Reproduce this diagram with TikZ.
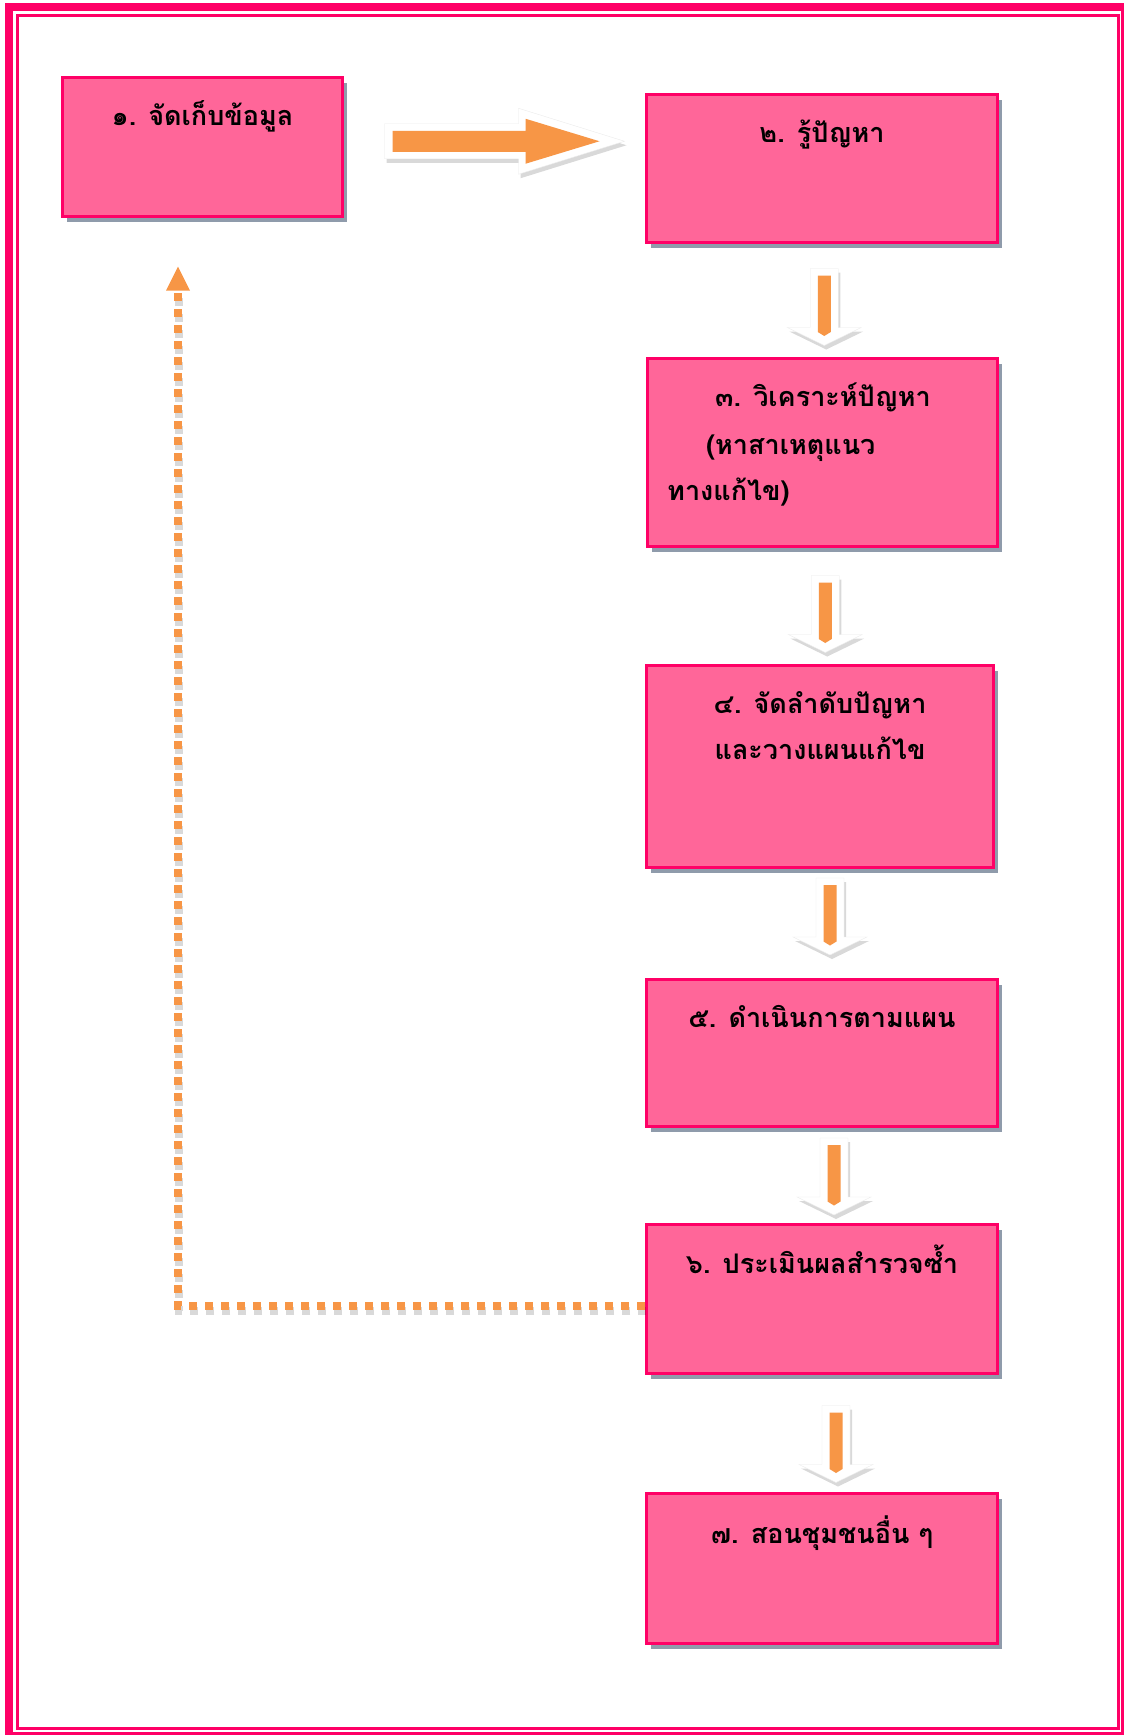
\documentclass[tikz,border=0pt]{standalone}
\usepackage{fontspec}
\usepackage{tikz}
\usetikzlibrary{positioning,calc,shadows,arrows.meta}
\newfontfamily\thaifont[Script=Thai]{Loma}
\definecolor{boxpink}{HTML}{FF6699}
\definecolor{linepink}{HTML}{FF0066}
\definecolor{arroworange}{HTML}{F79646}
\definecolor{shadowgray}{HTML}{8F9BAB}

\begin{document}
\begin{tikzpicture}[x=1pt,y=-1pt,
    box/.style={draw=linepink, line width=3pt, fill=boxpink, anchor=north west,
        drop shadow={fill=shadowgray, opacity=1, shadow xshift=4pt, shadow yshift=-6pt}},
    lbl/.style={anchor=base, inner sep=0pt, font=\thaifont\bfseries\fontsize{27}{46}\selectfont},
    dotline/.style={arroworange, line width=8pt, dash pattern=on 8pt off 8pt},
    blockwhite/.style={fill=white, draw=black!8, line width=.4pt,
        drop shadow={opacity=.3, shadow xshift=2pt, shadow yshift=-4pt}}]
    \useasboundingbox (0,0) rectangle (1124,1735);
    \draw[linepink, line width=8pt] (9,7) rectangle (1125,1736);
    \draw[linepink, line width=3pt] (17,15) rectangle (1118,1728);

    \node[box, minimum width=280pt, minimum height=139pt] (b1) at (61,75.5) {};
    \node[box, minimum width=351pt, minimum height=148pt] (b2) at (645,92.5) {};
    \node[box, minimum width=350pt, minimum height=188pt] (b3) at (646,356.5) {};
    \node[box, minimum width=347pt, minimum height=202pt] (b4) at (645,663.5) {};
    \node[box, minimum width=351pt, minimum height=147pt] (b5) at (645,977.5) {};
    \node[box, minimum width=351pt, minimum height=149pt] (b6) at (645,1222.5) {};
    \node[box, minimum width=351pt, minimum height=150pt] (b7) at (645,1491.5) {};

    \node[lbl] (t1) at ($(b1.north)+(0,50)$) {๑. จัดเก็บข้อมูล};
    \node[lbl] (t2) at ($(b2.north)+(0,50)$) {๒. รู้ปัญหา};
    \node[lbl, anchor=base west] (t3) at ($(b3.north west)+(21,50)$)
        {\begin{tabular}[t]{@{}l@{}}\hspace{48pt}๓. วิเคราะห์ปัญหา\\[2pt]\hspace{39pt}(หาสาเหตุแนว\\ทางแก้ไข)\end{tabular}};
    \node[lbl] (t4) at ($(b4.north)+(0,50)$)
        {\begin{tabular}[t]{@{}c@{}}๔. จัดลำดับปัญหา\\และวางแผนแก้ไข\end{tabular}};
    \node[lbl] (t5) at ($(b5.north)+(0,50)$) {๕. ดำเนินการตามแผน};
    \node[lbl] (t6) at ($(b6.north)+(0,51)$) {๖. ประเมินผลสำรวจซ้ำ};
    \node[lbl] (t7) at ($(b7.north)+(0,52)$) {๗. สอนชุมชนอื่น ๆ};

    \coordinate (a12) at ($(b1.east)!.5!(b2.west)+(10,-16)$);
    \begin{scope}[shift={(a12)}]
        \fill[blockwhite] (-120,-17.5) -- (14,-17.5) -- (14,-33) -- (120,0) -- (14,33) -- (14,17.5) -- (-120,17.5) -- cycle;
        \fill[arroworange] (-112,-10.5) -- (21,-10.5) -- (21,-22.5) -- (95,0) -- (21,22.5) -- (21,10.5) -- (-112,10.5) -- cycle;
    \end{scope}

    \foreach \up/\dn/\dx/\dy in {b2/b3/2/7, b3/b4/4/8.5, b4/b5/9/-6.5, b5/b6/12/1.5, b6/b7/14/11} {
        \coordinate (m) at ($(\up.south)!.5!(\dn.north)+(\dx,\dy)$);
        \begin{scope}[shift={(m)}]
            \fill[blockwhite] (-14,-38.5) -- (14,-38.5) -- (14,20.5) -- (37,20.5) -- (0,38.5) -- (-37,20.5) -- (-14,20.5) -- cycle;
            \fill[arroworange] (-6.5,-31.5) -- (6.5,-31.5) -- (6.5,25) -- (0,29) -- (-6.5,25) -- cycle;
        \end{scope}
    }

    \coordinate (back) at ($(b1.south)+(-24.5,49)$);
    \draw[dotline, black, opacity=.15, transform canvas={shift={(1pt,-5pt)}}] ($(b6.west)+(0,7)$) -| ($(back)+(0,24)$);
    \draw[dotline, -{Triangle[width=24pt,length=24pt,line width=0pt]}] ($(b6.west)+(0,7)$) -| (back);
\end{tikzpicture}
\end{document}
